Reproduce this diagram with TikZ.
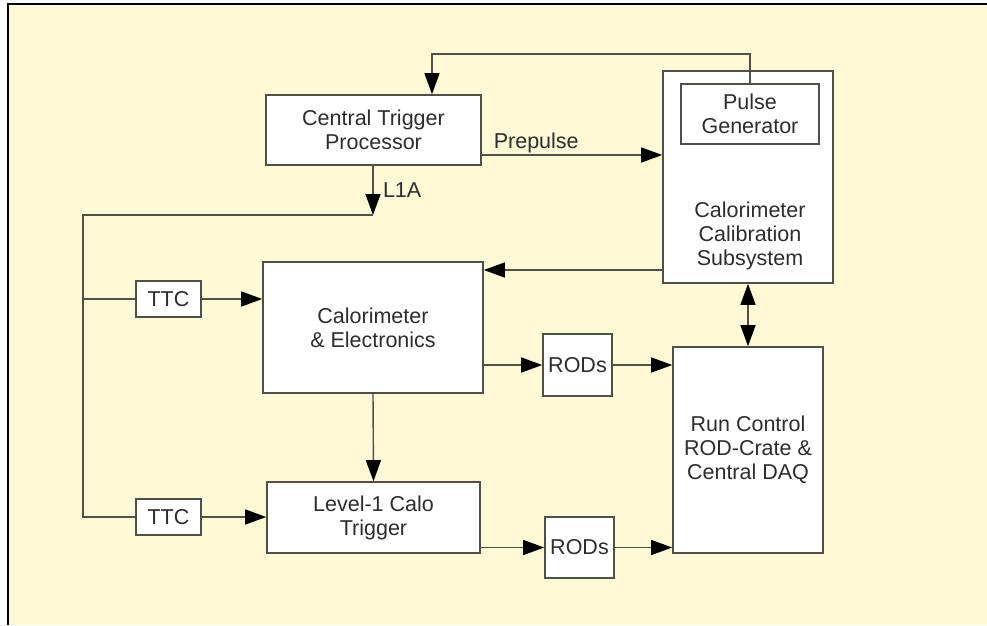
\documentclass[tikz,border=0pt]{standalone}
\usepackage{fontspec}
\setmainfont{Liberation Sans}
\usetikzlibrary{arrows.meta}
\definecolor{cream}{RGB}{253,248,214}
\definecolor{edge}{RGB}{80,80,72}
\definecolor{ink}{RGB}{45,45,45}
\begin{document}
\begin{tikzpicture}[x=1pt, y=-1pt,
    box/.style={draw=edge, line width=1.6pt, fill=white, align=center, text=ink, inner sep=0pt,
                font=\fontsize{21.5}{24}\selectfont},
    lbl/.style={text=ink, font=\fontsize{21.5}{24}\selectfont},
    >={Triangle[length=21pt, width=15pt, color=black]},
    line/.style={line width=1.4pt, draw=edge}]
            \useasboundingbox (0,0) rectangle (987,625);
            \fill[cream] (8,4) rectangle (987,625);
            \draw[black, line width=1.5pt] (987,4) -- (8,4) -- (8,625);

            \node[box, minimum width=215pt, minimum height=70pt] (ctp) at (373.5,130) {Central Trigger\\Processor};
            \node[box, minimum width=170pt, minimum height=212pt] (ccs) at (748,177) {};
            \node[box, minimum width=138pt, minimum height=60pt] (pg) at (750,114) {Pulse\\Generator};
            \node[lbl, align=center] (ccstxt) at (750,236) {Calorimeter\\Calibration\\Subsystem};
            \node[box, minimum width=220pt, minimum height=131pt] (ce) at (373,327.5) {Calorimeter\\\& Electronics};
            \node[box, minimum width=213pt, minimum height=71pt] (l1) at (373.5,517.5) {Level-1 Calo\\Trigger};
            \node[box, minimum width=65pt, minimum height=36pt] (ttc1) at (168.5,299) {TTC};
            \node[box, minimum width=65pt, minimum height=36pt] (ttc2) at (168.5,517) {TTC};
            \node[box, minimum width=69pt, minimum height=62pt] (rod1) at (577.5,365) {RODs};
            \node[box, minimum width=69pt, minimum height=61pt] (rod2) at (579.5,547.5) {RODs};
            \node[box, minimum width=150pt, minimum height=206pt] (rc) at (748,450) {Run Control\\ROD-Crate \&\\Central DAQ};

            \coordinate (fbtop) at (432,54);
            \draw[line, ->] (pg.north) |- (fbtop) -- (fbtop |- ctp.north);
            \draw[line, ->] ([yshift=-25pt]ctp.east) -- ([yshift=-25pt]ctp.east -| ccs.west)
                node[lbl, pos=0, above right, xshift=8pt, yshift=-2pt] {Prepulse};

            \coordinate (l1a) at (373,215);
            \coordinate (bustop) at (83,215);
            \coordinate (busbot) at (83,517);
            \draw[line, ->] (ctp.south -| l1a) -- (l1a) node[lbl, pos=0.5, right, xshift=6pt] {L1A};
            \draw[line] (l1a) -- (bustop) -- (busbot) -- (ttc2);
            \draw[line] (bustop |- ttc1) -- (ttc1);
            \draw[line, ->] (ttc1) -- (ttc1 -| ce.west);
            \draw[line, ->] (ttc2) -- (ttc2 -| l1.west);

            \draw[line, ->] (ccs.west |- 0,270) -- (ce.east |- 0,270);
            \draw[line, ->] (ce.south) -- (l1.north);
            \draw[line, ->] (rod1 -| ce.east) -- (rod1);
            \draw[line, ->] (rod1) -- (rod1 -| rc.west);
            \draw[line, ->] (rod2 -| l1.east) -- (rod2);
            \draw[line, ->] (rod2) -- (rod2 -| rc.west);
            \draw[line, <->] (ccs.south) -- (rc.north);
\end{tikzpicture}
\end{document}
